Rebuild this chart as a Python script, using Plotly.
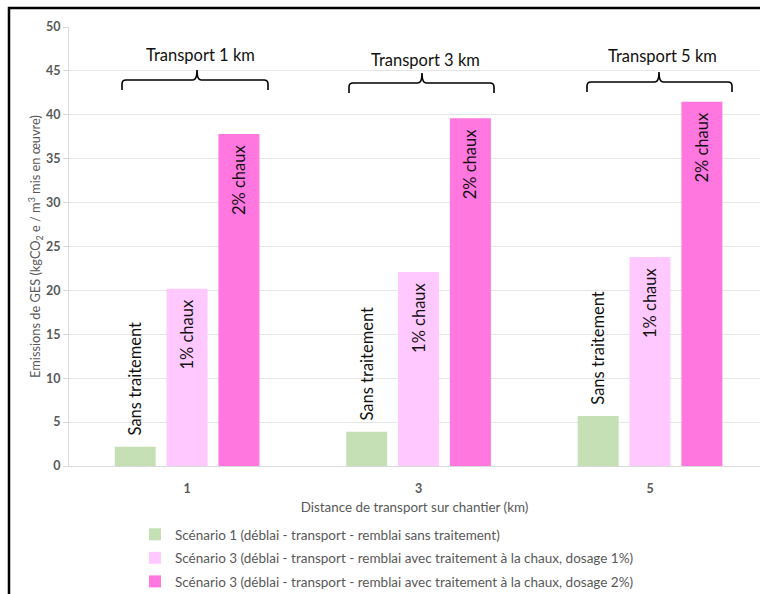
import plotly.graph_objects as go

# Transport distance on site (km)
distances = [1, 3, 5]

# GHG emissions (kgCO2e per m3 placed)
sans_traitement = [2.2, 3.9, 5.7]
chaux_1pct = [20.2, 22.1, 23.8]
chaux_2pct = [37.8, 39.6, 41.5]

series_names = [
    "Scénario 1 (déblai - transport - remblai sans traitement)",
    "Scénario 3 (déblai - transport - remblai avec traitement à la chaux, dosage 1%)",
    "Scénario 3 (déblai - transport - remblai avec traitement à la chaux, dosage 2%)",
]
bar_labels = ["Sans traitement", "1% chaux", "2% chaux"]
group_titles = ["Transport 1 km", "Transport 3 km", "Transport 5 km"]
y_ticks = [0, 5, 10, 15, 20, 25, 30, 35, 40, 45, 50]

FONT = "Lato, 'Open Sans', sans-serif"
GREY = "#595959"
PAD = "\u2002"

W, H = 760, 594
ML, MT, MR, MB = 69, 27, 0, 128
PW, PH = W - ML - MR, H - MT - MB


def px_x(x):
    return (x - ML) / PW


def px_y(y):
    return (H - MB - y) / PH


fig = go.Figure()
colors = ["#C5E0B4", "#FFC9FF", "#FF77DF"]
values = [sans_traitement, chaux_1pct, chaux_2pct]
for i, (name, vals, col, lab) in enumerate(zip(series_names, values, colors, bar_labels)):
    label = PAD + lab if i == 0 else lab + PAD
    fig.add_trace(go.Bar(
        x=distances, y=vals, name=name, legendgroup=f"g{i}",
        marker=dict(color=col, line=dict(width=0)),
        text=[label] * len(vals),
        textangle=-90,
        textposition="outside" if i == 0 else "inside",
        insidetextanchor="end",
        textfont=dict(family=FONT, size=16.5, color="#111111"),
        cliponaxis=False,
        hoverinfo="skip",
    ))

# Curly brackets with group titles above the bars
brackets = [(122, 197, 268, 80, 90, 70, 55), (349, 422, 494, 83, 93, 73, 60),
            (587, 659, 732, 82, 92, 72, 56)]
shapes = []
annotations = []
for (xl, xc, xr, yh, ye, yt, ytext), title in zip(brackets, group_titles):
    r = 4
    path = (
        f"M {px_x(xl)} {px_y(ye)} L {px_x(xl)} {px_y(yh + r)} "
        f"Q {px_x(xl)} {px_y(yh)} {px_x(xl + r)} {px_y(yh)} "
        f"L {px_x(xc - r)} {px_y(yh)} Q {px_x(xc)} {px_y(yh)} {px_x(xc)} {px_y(yt)} "
        f"Q {px_x(xc)} {px_y(yh)} {px_x(xc + r)} {px_y(yh)} "
        f"L {px_x(xr - r)} {px_y(yh)} Q {px_x(xr)} {px_y(yh)} {px_x(xr)} {px_y(yh + r)} "
        f"L {px_x(xr)} {px_y(ye)}"
    )
    shapes.append(dict(type="path", xref="paper", yref="paper", path=path,
                       line=dict(color="#000000", width=1.6)))
    annotations.append(dict(xref="paper", yref="paper", x=px_x(xc + 3), y=px_y(ytext),
                            text=title, showarrow=False, xanchor="center", yanchor="middle",
                            font=dict(family=FONT, size=16.5, color="#111111")))

# Outer frame
shapes.append(dict(type="rect", xref="paper", yref="paper",
                   x0=px_x(9), y0=px_y(8), x1=px_x(775), y1=px_y(620),
                   line=dict(color="#000000", width=2.5), fillcolor="rgba(0,0,0,0)"))

fig.update_layout(
    width=W, height=H,
    margin=dict(l=ML, r=MR, t=MT, b=MB, autoexpand=False),
    paper_bgcolor="white", plot_bgcolor="white",
    barmode="group", bargap=0.328, bargroupgap=0.21,
    font=dict(family=FONT, color=GREY),
    shapes=shapes, annotations=annotations,
    showlegend=True,
    legend=dict(orientation="v", x=px_x(135), y=px_y(519), xanchor="left", yanchor="top",
                font=dict(family=FONT, size=13.5, color=GREY), tracegroupgap=3,
                traceorder="grouped",
                itemsizing="constant", bgcolor="rgba(0,0,0,0)"),
    uniformtext=dict(minsize=16.5, mode="show"),
)
fig.update_xaxes(
    range=[-0.02, 5.95], tickvals=distances, ticktext=[str(d) for d in distances],
    tickfont=dict(family=FONT, size=12.5, color=GREY, weight="bold"),
    showgrid=False, showline=True, linecolor="#D9D9D9", linewidth=1, ticks="",
    ticklabelstandoff=11,
    title=dict(text="Distance de transport sur chantier (km)", standoff=7,
               font=dict(family=FONT, size=13.4, color=GREY)),
    zeroline=False, fixedrange=True,
)
fig.update_yaxes(
    range=[0, 50], tickvals=y_ticks,
    tickfont=dict(family=FONT, size=12.5, color=GREY, weight="bold"),
    showgrid=True, gridcolor="#E6E6E6", gridwidth=1,
    showline=True, linecolor="#D9D9D9", linewidth=1, ticks="outside", ticklen=5,
    tickcolor="#D9D9D9",
    title=dict(text="Emissions de GES (kgCO<sub>2</sub> e / m<sup>3</sup> mis en œuvre)",
               standoff=2, font=dict(family=FONT, size=12.8, color=GREY)),
    zeroline=False, fixedrange=True,
)

fig.write_html("out.html")
